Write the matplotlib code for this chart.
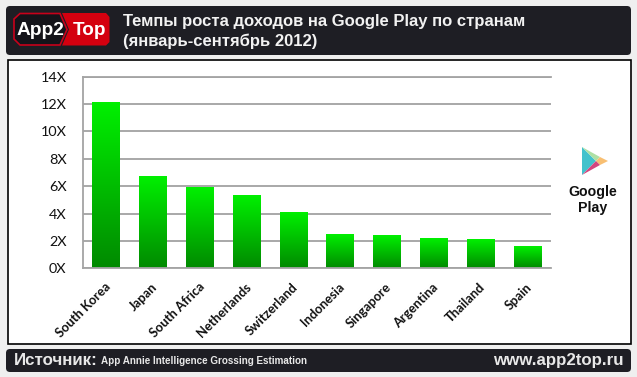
import numpy as np
import matplotlib.pyplot as plt
from matplotlib.patches import FancyBboxPatch, Polygon, Rectangle
from matplotlib.colors import LinearSegmentedColormap
from matplotlib.transforms import ScaledTranslation

plt.rcParams['font.family'] = ['Liberation Sans', 'DejaVu Sans']

countries = ['South Korea', 'Japan', 'South Africa', 'Netherlands', 'Switzerland',
             'Indonesia', 'Singapore', 'Argentina', 'Thailand', 'Spain']
growth = [12.1, 6.7, 5.85, 5.32, 4.02, 2.48, 2.34, 2.12, 2.05, 1.54]
y_ticks = [0, 2, 4, 6, 8, 10, 12, 14]
y_labels = ['0X', '2X', '4X', '6X', '8X', '10X', '12X', '14X']

W, H = 637, 377
DARK = '#1e1e24'

fig = plt.figure(figsize=(W / 100, H / 100), dpi=100, facecolor='#efefef')

# background layer in pixel coords
bg = fig.add_axes([0, 0, 1, 1])
bg.set_xlim(0, W)
bg.set_ylim(H, 0)
bg.axis('off')


def panel(x0, y0, x1, y1, r=4, **kw):
    bg.add_patch(FancyBboxPatch((x0 + r, y0 + r), x1 - x0 - 2 * r, y1 - y0 - 2 * r,
                                boxstyle='round,pad=%d,rounding_size=%d' % (r, r), **kw))


panel(6, 6, 631, 55, facecolor=DARK, edgecolor='none')
panel(6, 349, 631, 372, facecolor=DARK, edgecolor='none')
bg.add_patch(Rectangle((7.5, 59.5), 623, 284, facecolor='white', edgecolor='black', lw=1.2))

# logo
bg.add_patch(Polygon([(14, 19), (20, 13.5), (60, 13.5), (67, 29.5), (60, 45), (20, 45), (14, 39)],
                     facecolor='#14141a', edgecolor='#c8001a', lw=1.2))
bg.add_patch(Polygon([(62, 13), (106, 13), (109.5, 17), (109.5, 42), (106, 45.5), (62, 45.5), (69, 29.5)],
                     facecolor='#d4000f', edgecolor='none'))
bg.text(17, 30.5, 'App2', color='white', fontsize=13.8, fontweight='bold', va='center', ha='left')
bg.text(72.5, 30.5, 'Top', color='white', fontsize=13.6, fontweight='bold', va='center', ha='left')

# title
bg.text(123, 21.5, 'Темпы роста доходов на Google Play по странам', color='#f2f2f2',
        fontsize=12, fontweight='bold', va='center', ha='left')
bg.text(123, 41, '(январь-сентябрь 2012)', color='#f2f2f2',
        fontsize=12, fontweight='bold', va='center', ha='left')

# footer
bg.text(14, 360.5, 'Источник:', color='#e8e8e8', fontsize=12.2, fontweight='bold', va='center')
bg.text(101, 361, 'App Annie Intelligence Grossing Estimation', color='#e8e8e8',
        fontsize=7.15, fontweight='bold', va='center')
bg.text(624, 360, 'www.app2top.ru', color='#e8e8e8', fontsize=12.2, fontweight='bold',
        va='center', ha='right')

# google play triangle
bg.add_patch(Polygon([(582, 147), (596, 161), (582, 175)], facecolor='#42c2cc', edgecolor='none'))
bg.add_patch(Polygon([(582, 147), (600, 157), (596, 161)], facecolor='#aee0a4', edgecolor='none'))
bg.add_patch(Polygon([(600, 157), (608, 161), (600, 165), (596, 161)], facecolor='#f8bf72', edgecolor='none'))
bg.add_patch(Polygon([(582, 175), (596, 161), (600, 165)], facecolor='#d4467e', edgecolor='none'))
bg.text(593, 192, 'Google', color='#111111', fontsize=10.2, fontweight='bold', ha='center', va='center')
bg.text(593, 208, 'Play', color='#111111', fontsize=10.2, fontweight='bold', ha='center', va='center')

# chart
ax = fig.add_axes([82.7 / W, 1 - 268.3 / H, 468 / W, 191.6 / H])
ax.set_facecolor('white')
x = np.arange(len(countries))
width = 0.585
ax.set_axisbelow(True)
ax.grid(axis='y', color='#a8a8a8', lw=1.4)

cmap = LinearSegmentedColormap.from_list('bar', ['#008a00', '#00f000'])
grad = np.linspace(1, 0, 128).reshape(-1, 1)
bars = ax.bar(x, growth, width, facecolor='none', edgecolor='none')
for b in bars:
    ax.imshow(grad, cmap=cmap, aspect='auto', zorder=2, vmin=0, vmax=1,
              extent=[b.get_x(), b.get_x() + b.get_width(), 0, b.get_height()])
ax.set_xlim(-0.5, len(countries) - 0.5)
ax.set_ylim(0, 14)

ax.spines['right'].set_visible(False)
for s in ['left', 'bottom', 'top']:
    ax.spines[s].set_color('#a4a4a4')
    ax.spines[s].set_linewidth(1.3)

ax.set_yticks(y_ticks)
ax.set_yticklabels(y_labels, fontsize=10.4, family=['Lato', 'DejaVu Sans'], color='#111111')
ax.set_xticks(x)
ax.set_xticklabels(countries, rotation=45, ha='right', rotation_mode='anchor',
                   fontsize=9.3, fontweight='bold', family=['Lato', 'DejaVu Sans'], color='#111111')
ax.tick_params(axis='both', length=0)
ax.tick_params(axis='y', pad=11.5)
ax.tick_params(axis='x', pad=9)
shift = ScaledTranslation(-1.5 / 100, 0, fig.dpi_scale_trans)
for t in ax.get_xticklabels():
    t.set_transform(t.get_transform() + shift)

fig.savefig('out.png', dpi=100, facecolor=fig.get_facecolor())
